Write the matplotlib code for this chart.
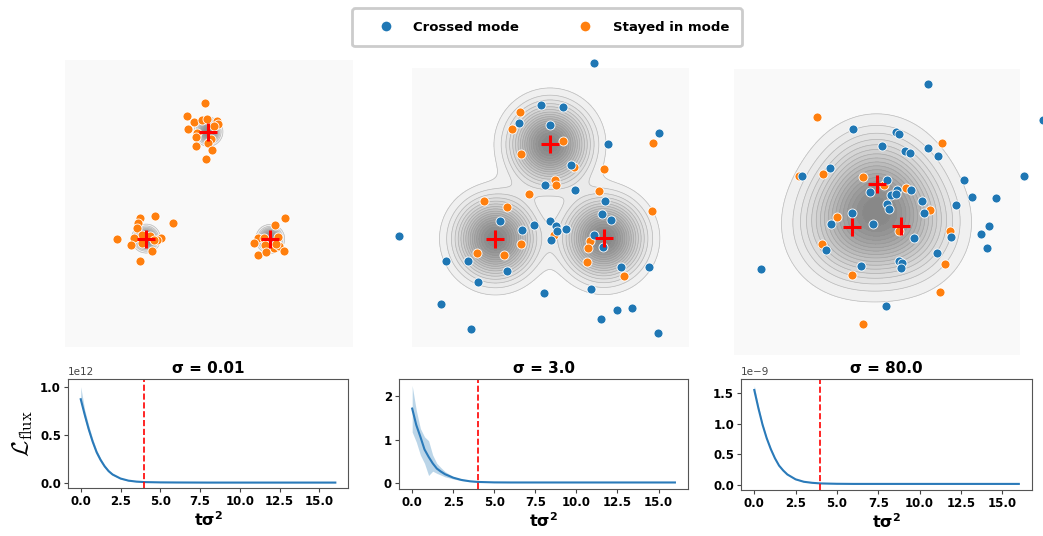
import numpy as np
import matplotlib.pyplot as plt
from matplotlib.colors import LinearSegmentedColormap
from matplotlib.lines import Line2D

plt.rcParams['font.weight'] = 'bold'

# ---------------- top row: samples in the image plane ----------------
# panel 1 (sigma = 0.01): every sample stayed in its mode
p1_stay_x = [435, 381, 401, 427, 441, 470, 475, 461, 384, 411, 409, 453, 407, 443, 457, 438,
             284, 241, 233, 231, 338, 245, 221, 170, 269, 302, 290, 245, 213, 276, 239, 283,
             673, 643, 594, 610, 652, 580, 615, 640, 657, 648, 592, 618, 670]
p1_stay_y = [145, 182, 202, 195, 192, 197, 207, 212, 222, 233, 246, 252, 272, 265, 285, 311,
             483, 488, 503, 519, 503, 540, 548, 551, 543, 547, 555, 562, 570, 587, 618, 553,
             489, 510, 549, 547, 544, 564, 568, 577, 573, 566, 600, 591, 588]
p1_cross_x = []
p1_cross_y = []
p1_mode_x = [445, 258, 630]
p1_mode_y = [230, 550, 551]

# panel 2 (sigma = 3.0)
p2_cross_x = [643, 483, 548, 418, 509, 685, 838, 574, 494, 585, 674, 666, 693, 511, 463, 527,
              530, 558, 360, 426, 514, 642, 668, 55, 197, 264, 380, 295, 724, 807, 634, 491,
              181, 271, 710, 758, 663, 835]
p2_cross_y = [25, 152, 158, 205, 212, 266, 233, 329, 390, 405, 437, 477, 495, 497, 511, 513,
              527, 521, 497, 524, 556, 539, 577, 543, 617, 618, 647, 681, 635, 636, 700, 712,
              746, 820, 764, 757, 792, 834]
p2_stay_x = [420, 396, 549, 424, 582, 672, 525, 528, 820, 448, 658, 312, 380, 816, 522, 423,
             290, 372, 630, 625, 621, 734]
p2_stay_y = [171, 222, 257, 298, 337, 343, 375, 390, 265, 418, 409, 438, 455, 467, 541, 566,
             594, 600, 559, 579, 620, 662]
p2_mode_x = [510, 346, 672]
p2_mode_y = [268, 551, 550]

# panel 3 (sigma = 80.0)
p3_cross_x = [623, 969, 400, 528, 537, 486, 556, 570, 625, 654, 329, 247, 501, 572, 531, 451,
              514, 527, 732, 913, 756, 828, 605, 709, 501, 508, 611, 395, 333, 459, 581, 693,
              783, 807, 802, 319, 652, 538, 545, 543, 424, 124, 497]
p3_cross_y = [73, 181, 208, 217, 223, 258, 274, 280, 266, 290, 325, 349, 362, 390, 391, 397,
              405, 404, 361, 350, 412, 416, 424, 437, 434, 448, 460, 461, 491, 493, 533, 532,
              521, 497, 565, 571, 580, 603, 608, 623, 619, 628, 738]
p3_stay_x = [292, 665, 238, 309, 430, 492, 557, 629, 352, 537, 691, 307, 676, 396, 659, 428]
p3_stay_y = [172, 250, 349, 343, 351, 376, 386, 450, 472, 512, 513, 551, 611, 646, 697, 792]
p3_mode_x = [470, 396, 543]
p3_mode_y = [372, 500, 497]

# ---------------- bottom row: flux loss vs t*sigma^2 ----------------
t = [0, 0.25, 0.5, 0.75, 1.0, 1.25, 1.5, 1.75, 2.0, 2.5, 3.0, 3.5, 4.0, 5.0, 6.0, 8.0,
     10.0, 12.0, 14.0, 16.0]
loss1 = [0.87, 0.71, 0.56, 0.43, 0.32, 0.24, 0.175, 0.125, 0.09, 0.048, 0.026, 0.016, 0.011,
         0.008, 0.007, 0.006, 0.006, 0.006, 0.006, 0.006]
loss1_hi = [1.0, 0.76, 0.60, 0.46, 0.345, 0.26, 0.19, 0.137, 0.10, 0.054, 0.03, 0.019, 0.013,
            0.01, 0.009, 0.008, 0.008, 0.008, 0.008, 0.008]
loss1_lo = [0.84, 0.66, 0.52, 0.40, 0.295, 0.22, 0.16, 0.113, 0.08, 0.042, 0.022, 0.013, 0.009,
            0.006, 0.005, 0.004, 0.004, 0.004, 0.004, 0.004]
loss2 = [1.72, 1.34, 1.07, 0.78, 0.61, 0.46, 0.34, 0.27, 0.21, 0.13, 0.078, 0.048, 0.032,
         0.022, 0.02, 0.02, 0.02, 0.02, 0.02, 0.02]
loss2_hi = [2.25, 1.68, 1.26, 1.07, 0.98, 0.65, 0.46, 0.36, 0.27, 0.155, 0.092, 0.058, 0.04,
            0.026, 0.023, 0.023, 0.023, 0.023, 0.023, 0.023]
loss2_lo = [1.18, 0.95, 0.65, 0.46, 0.18, 0.28, 0.23, 0.19, 0.15, 0.10, 0.062, 0.04, 0.026,
            0.018, 0.017, 0.017, 0.017, 0.017, 0.017, 0.017]
loss3 = [1.55, 1.25, 0.98, 0.76, 0.58, 0.43, 0.31, 0.23, 0.165, 0.085, 0.045, 0.028, 0.018,
         0.012, 0.01, 0.01, 0.01, 0.01, 0.01, 0.01]
loss3_hi = [1.62, 1.29, 1.01, 0.78, 0.60, 0.445, 0.32, 0.24, 0.172, 0.09, 0.048, 0.03, 0.02,
            0.013, 0.011, 0.011, 0.011, 0.011, 0.011, 0.011]
loss3_lo = [1.48, 1.21, 0.95, 0.74, 0.56, 0.415, 0.30, 0.22, 0.158, 0.08, 0.042, 0.026, 0.016,
            0.011, 0.009, 0.009, 0.009, 0.009, 0.009, 0.009]
scales = [1e12, 1.0, 1e-9]
sigma_labels = ['σ = 0.01', 'σ = 3.0', 'σ = 80.0']
t_cut = 4.0

BLUE = '#1f77b4'
ORANGE = '#ff7f0e'
grey_cmap = LinearSegmentedColormap.from_list('g', ['#f3f3f3', '#858585'])

fig = plt.figure(figsize=(10.43, 5.36), dpi=100)

top = [
    dict(pos=[0.0623, 0.3526, 0.2761, 0.5354], xlim=(15, 878), ylim=(875, 15), width=18,
         cx=p1_cross_x, cy=p1_cross_y, sx=p1_stay_x, sy=p1_stay_y, mx=p1_mode_x, my=p1_mode_y),
    dict(pos=[0.3950, 0.3526, 0.2656, 0.5205], xlim=(95, 928), ylim=(875, 40), width=70,
         cx=p2_cross_x, cy=p2_cross_y, sx=p2_stay_x, sy=p2_stay_y, mx=p2_mode_x, my=p2_mode_y),
    dict(pos=[0.7037, 0.3377, 0.2742, 0.5336], xlim=(42, 900), ylim=(885, 28), width=100,
         cx=p3_cross_x, cy=p3_cross_y, sx=p3_stay_x, sy=p3_stay_y, mx=p3_mode_x, my=p3_mode_y),
]

for p in top:
    ax = fig.add_axes(p['pos'])
    ax.set_facecolor('#f9f9f9')
    gx = np.linspace(p['xlim'][0], p['xlim'][1], 400)
    gy = np.linspace(p['ylim'][1], p['ylim'][0], 400)
    X, Y = np.meshgrid(gx, gy)
    Z = np.zeros_like(X)
    for mx, my in zip(p['mx'], p['my']):
        Z += np.exp(-((X - mx) ** 2 + (Y - my) ** 2) / (2 * p['width'] ** 2))
    n = 18
    levels = np.linspace(Z.max() / n, Z.max() * 1.001, n)
    ax.contourf(X, Y, Z, levels=levels, cmap=grey_cmap)
    ax.contour(X, Y, Z, levels=levels[:-1], colors='#8f8f8f', linewidths=0.5, alpha=0.55)
    ax.scatter(p['sx'], p['sy'], s=42, color=ORANGE, edgecolor='white', linewidth=0.6,
               zorder=3, clip_on=False)
    ax.scatter(p['cx'], p['cy'], s=42, color=BLUE, edgecolor='white', linewidth=0.6,
               zorder=4, clip_on=False)
    ax.plot(p['mx'], p['my'], ls='', marker='+', ms=13, mew=2.2, color='red', zorder=5)
    ax.set_xlim(p['xlim'])
    ax.set_ylim(p['ylim'])
    ax.set_xticks([])
    ax.set_yticks([])
    for s in ax.spines.values():
        s.set_visible(False)

bottom_pos = [[0.0652, 0.0896, 0.2685, 0.2034],
              [0.3826, 0.0877, 0.2771, 0.2052],
              [0.7105, 0.0858, 0.2790, 0.2071]]
series = [(loss1, loss1_lo, loss1_hi), (loss2, loss2_lo, loss2_hi), (loss3, loss3_lo, loss3_hi)]
ylims = [(-0.05, 1.08), (-0.13, 2.40), (-0.09, 1.73)]

for i, pos in enumerate(bottom_pos):
    ax = fig.add_axes(pos)
    mean, lo, hi = [np.array(v) * scales[i] for v in series[i]]
    ax.fill_between(t, lo, hi, color=BLUE, alpha=0.3, linewidth=0)
    ax.plot(t, mean, color='#2a7ab9', lw=1.5)
    ax.axvline(t_cut, color='red', ls='--', lw=1.2)
    ax.set_xlim(-0.8, 16.8)
    ax.set_ylim(ylims[i][0] * scales[i], ylims[i][1] * scales[i])
    ax.set_xticks([0, 2.5, 5, 7.5, 10, 12.5, 15])
    ax.set_title(sigma_labels[i], fontsize=11, fontweight='bold', pad=4)
    ax.set_xlabel(r'tσ$^{\mathbf{2}}$', fontsize=11.5, fontweight='bold', labelpad=2)
    ax.tick_params(labelsize=8.5, length=3, color='#444444', pad=2)
    for s in ax.spines.values():
        s.set_color('#555555')
    off = ax.yaxis.get_offset_text()
    off.set_fontweight('normal')
    off.set_fontsize(7.5)
    off.set_color('#444444')
    if i == 0:
        ax.set_ylabel(r'$\mathcal{L}_{\rm flux}$', fontsize=17, math_fontfamily='cm', labelpad=4)

handles = [Line2D([], [], ls='', marker='o', ms=8, color=BLUE, mec='white', label='Crossed mode'),
           Line2D([], [], ls='', marker='o', ms=8, color=ORANGE, mec='white', label='Stayed in mode')]
leg = fig.legend(handles=handles, loc='upper center', bbox_to_anchor=(0.5245, 0.997), ncol=2,
                 prop={'weight': 'bold', 'size': 9.5}, handlelength=3.2, handletextpad=0.5,
                 columnspacing=3.4, borderpad=0.95, fancybox=True, edgecolor='#cccccc',
                 framealpha=1)
leg.get_frame().set_linewidth(2)

fig.savefig('out.png', dpi=100)
